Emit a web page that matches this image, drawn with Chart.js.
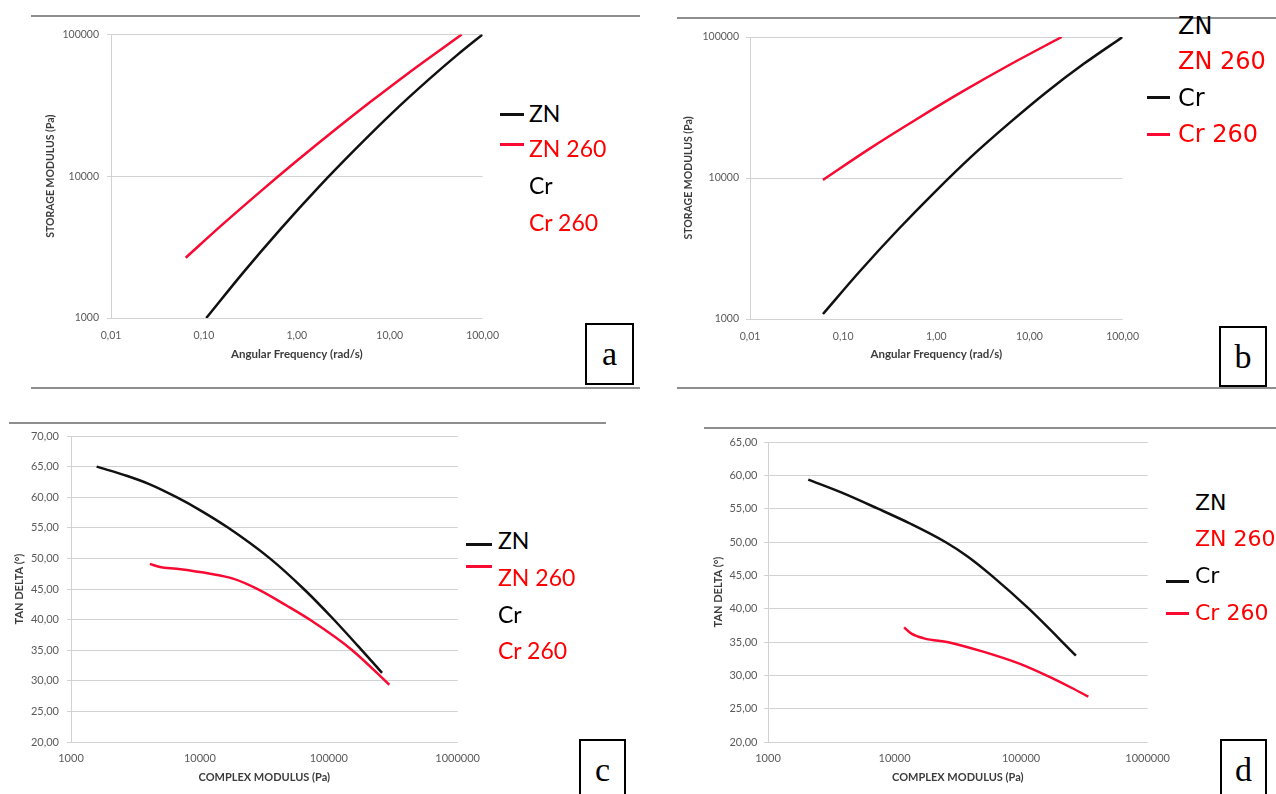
<!DOCTYPE html>
<html>
<head>
<meta charset="utf-8">
<script src="https://cdn.jsdelivr.net/npm/chart.js@4.4.1/dist/chart.umd.min.js"></script>
<style>
  body { margin: 0; background: #fff; }
  #page { position: relative; width: 1276px; height: 794px; overflow: hidden; background: #fff; }
  canvas { position: absolute; }
  .rule { position: absolute; height: 2px; background: #8e8e8e; }
  .leg { position: absolute; white-space: nowrap; line-height: 1; }
  .swatch { position: absolute; height: 3px; }
  .tag { position: absolute; border: 2px solid #000; box-sizing: border-box; background: #fff;
         font-family: 'Liberation Serif', serif; font-size: 34px; text-align: center; line-height: 58px; }
</style>
</head>
<body>
<div id="page">
  <div class="rule" style="left:31px; top:15px; width:609px;"></div>
  <div class="rule" style="left:31px; top:387px; width:609px;"></div>
  <div class="rule" style="left:677px; top:17px; width:599px;"></div>
  <div class="rule" style="left:677px; top:387px; width:599px;"></div>
  <div class="rule" style="left:9px; top:422px; width:597px;"></div>
  <div class="rule" style="left:704px; top:427px; width:572px;"></div>

  <canvas id="chartA" width="480" height="344" style="left:30px; top:20px;"></canvas>
  <canvas id="chartB" width="490" height="344" style="left:660px; top:20px;"></canvas>
  <canvas id="chartC" width="490" height="368" style="left:0px; top:420px;"></canvas>
  <canvas id="chartD" width="490" height="363" style="left:690px; top:425px;"></canvas>

  <div class="tag" style="left:585px; top:323px; width:49px; height:62px;">a</div>
  <div class="tag" style="left:1219px; top:326px; width:48px; height:61px;">b</div>
  <div class="tag" style="left:579px; top:739px; width:47px; height:62px;">c</div>
  <div class="tag" style="left:1220px; top:739px; width:47px; height:62px;">d</div>
</div>
<script>
// (a) storage modulus vs angular frequency
const freqA_ZN = [0.106, 0.266, 0.668, 1.68, 4.22, 10.6, 26.6, 53.1, 100];
const storageA_ZN = [1000, 2100, 4240, 8250, 15400, 27900, 48400, 71500, 100000];
const freqA_ZN260 = [0.0637, 0.160, 0.402, 1.01, 2.54, 6.37, 16.0, 59.6];
const storageA_ZN260 = [2660, 4590, 7760, 12900, 21100, 33900, 53600, 100000];

// (b) storage modulus vs angular frequency
const freqB_Cr = [0.0607, 0.152, 0.383, 0.962, 2.41, 6.07, 15.2, 38.3, 100];
const storageB_Cr = [1085, 2190, 4260, 7950, 14300, 24500, 40600, 64500, 100000];
const freqB_Cr260 = [0.0607, 0.191, 0.607, 1.92, 6.07, 22.2];
const storageB_Cr260 = [9700, 16100, 26000, 41100, 63300, 100000];

// (c) tan delta vs complex modulus
const modC_ZN = [1580, 2700, 4090, 6590, 10000, 16600, 34900, 65200, 107000, 171000, 259000];
const deltaC_ZN = [65.0, 63.5, 62.1, 60.0, 57.9, 55.0, 50.0, 44.84, 40.22, 35.54, 31.3];
const modC_ZN260 = [4090, 4900, 6590, 12000, 18100, 28300, 47000, 73500, 152000, 295000];
const deltaC_ZN260 = [49.1, 48.6, 48.3, 47.5, 46.7, 44.95, 42.3, 39.8, 35.0, 29.35];

// (d) tan delta vs complex modulus
const modD_Cr = [2080, 3830, 7390, 13500, 25200, 38000, 58200, 115000, 271000];
const deltaD_Cr = [59.36, 57.4, 55.0, 52.7, 50.0, 47.8, 45.0, 40.0, 32.96];
const modD_Cr260 = [11900, 13600, 17100, 27600, 50100, 96900, 166000, 252000, 340000];
const deltaD_Cr260 = [37.2, 36.25, 35.55, 34.9, 33.55, 31.75, 29.8, 28.1, 26.8];

// ticks
const freqTicks = [0.01, 0.1, 1, 10, 100];
const freqTickLabels = ['0,01', '0,10', '1,00', '10,00', '100,00'];
const storageTicks = [1000, 10000, 100000];
const storageTickLabels = ['1000', '10000', '100000'];
const modulusTicks = [1000, 10000, 100000, 1000000];
const modulusTickLabels = ['1000', '10000', '100000', '1000000'];
const deltaTicksC = [20, 25, 30, 35, 40, 45, 50, 55, 60, 65, 70];
const deltaTickLabelsC = ['20,00', '25,00', '30,00', '35,00', '40,00', '45,00', '50,00', '55,00', '60,00', '65,00', '70,00'];
const deltaTicksD = [20, 25, 30, 35, 40, 45, 50, 55, 60, 65];
const deltaTickLabelsD = ['20,00', '25,00', '30,00', '35,00', '40,00', '45,00', '50,00', '55,00', '60,00', '65,00'];

const legendLabels = ['ZN', 'ZN 260', 'Cr', 'Cr 260'];
const legendColors = ['#000000', '#ff0000', '#000000', '#ff0000'];

const BLACK = '#111111';
const RED = '#f80a32';
const gridColor = '#d2d2d2';
const tickColor = '#5a5a5a';
const titleColor = '#3c3c3c';

function points(xs, ys) {
  return xs.map((x, i) => ({ x: x, y: ys[i] }));
}

function makeChart(id, cfg) {
  new Chart(document.getElementById(id), {
    type: 'line',
    data: {
      datasets: cfg.series.map(s => ({
        data: points(s.x, s.y),
        borderColor: s.color,
        borderWidth: 2.5,
        pointRadius: 0,
        fill: false,
        cubicInterpolationMode: 'monotone'
      }))
    },
    options: {
      responsive: false,
      animation: false,
      layout: { padding: { top: cfg.padTop, right: cfg.padRight, left: 0, bottom: 0 } },
      plugins: { legend: { display: false }, tooltip: { enabled: false } },
      scales: {
        x: {
          type: 'logarithmic',
          min: cfg.xTicks[0],
          max: cfg.xTicks[cfg.xTicks.length - 1],
          afterBuildTicks: s => { s.ticks = cfg.xTicks.map(v => ({ value: v })); },
          afterFit: s => { s.height = cfg.xHeight; },
          grid: { display: false, drawTicks: false },
          border: { display: false },
          ticks: {
            autoSkip: false, maxRotation: 0, padding: cfg.xPad, color: tickColor,
            font: { family: 'Lato', size: cfg.tickSize },
            callback: (v, i) => cfg.xLabels[i]
          },
          title: {
            display: true, text: cfg.xTitle, color: titleColor,
            font: { family: 'Lato', size: cfg.xTitleSize, weight: 'bold' },
            padding: { top: 3, bottom: cfg.xTitlePad }
          }
        },
        y: {
          type: cfg.yType,
          min: cfg.yTicks[0],
          max: cfg.yTicks[cfg.yTicks.length - 1],
          afterBuildTicks: s => { s.ticks = cfg.yTicks.map(v => ({ value: v })); },
          afterFit: s => { s.width = cfg.yWidth; },
          grid: { color: gridColor, lineWidth: 1, tickLength: 4 },
          border: { color: gridColor },
          ticks: {
            padding: cfg.yPad, color: tickColor,
            font: { family: 'Lato', size: cfg.tickSize },
            callback: (v, i) => cfg.yLabels[i]
          },
          title: {
            display: true, text: cfg.yTitle, color: titleColor,
            font: { family: 'Lato', size: cfg.yTitleSize, weight: 'bold' },
            padding: { top: cfg.yTitlePad, bottom: 0 }
          }
        }
      }
    }
  });
}

makeChart('chartA', {
  series: [
    { x: freqA_ZN, y: storageA_ZN, color: BLACK },
    { x: freqA_ZN260, y: storageA_ZN260, color: RED }
  ],
  xTicks: freqTicks, xLabels: freqTickLabels,
  yTicks: storageTicks, yLabels: storageTickLabels, yType: 'logarithmic',
  xTitle: 'Angular Frequency (rad/s)', yTitle: 'STORAGE MODULUS (Pa)',
  padTop: 14.5, padRight: 25.5, xHeight: 46, yWidth: 81,
  xPad: 11, yPad: 8, tickSize: 10.5,
  xTitleSize: 11.5, xTitlePad: 3, yTitleSize: 10.5, yTitlePad: 14.7
});

makeChart('chartB', {
  series: [
    { x: freqB_Cr, y: storageB_Cr, color: BLACK },
    { x: freqB_Cr260, y: storageB_Cr260, color: RED }
  ],
  xTicks: freqTicks, xLabels: freqTickLabels,
  yTicks: storageTicks, yLabels: storageTickLabels, yType: 'logarithmic',
  xTitle: 'Angular Frequency (rad/s)', yTitle: 'STORAGE MODULUS (Pa)',
  padTop: 17, padRight: 25.5, xHeight: 45, yWidth: 90,
  xPad: 11, yPad: 7, tickSize: 10.5,
  xTitleSize: 11.5, xTitlePad: 3, yTitleSize: 10.5, yTitlePad: 22.7
});

makeChart('chartC', {
  series: [
    { x: modC_ZN, y: deltaC_ZN, color: BLACK },
    { x: modC_ZN260, y: deltaC_ZN260, color: RED }
  ],
  xTicks: modulusTicks, xLabels: modulusTickLabels,
  yTicks: deltaTicksC, yLabels: deltaTickLabelsC, yType: 'linear',
  xTitle: 'COMPLEX MODULUS (Pa)', yTitle: 'TAN DELTA (°)',
  padTop: 16, padRight: 32, xHeight: 46, yWidth: 71,
  xPad: 10, yPad: 8, tickSize: 11,
  xTitleSize: 11, xTitlePad: 4, yTitleSize: 11, yTitlePad: 12.4
});

makeChart('chartD', {
  series: [
    { x: modD_Cr, y: deltaD_Cr, color: BLACK },
    { x: modD_Cr260, y: deltaD_Cr260, color: RED }
  ],
  xTicks: modulusTicks, xLabels: modulusTickLabels,
  yTicks: deltaTicksD, yLabels: deltaTickLabelsD, yType: 'linear',
  xTitle: 'COMPLEX MODULUS (Pa)', yTitle: 'TAN DELTA (°)',
  padTop: 17, padRight: 26.5, xHeight: 46, yWidth: 78,
  xPad: 10, yPad: 6.5, tickSize: 11,
  xTitleSize: 11, xTitlePad: 4, yTitleSize: 11, yTitlePad: 21.4
});

// legends: text rows plus the short line samples
const page = document.getElementById('page');

function addText(text, color, left, capCenter, family, size, k) {
  const d = document.createElement('div');
  d.className = 'leg';
  d.textContent = text;
  d.style.left = left + 'px';
  d.style.top = (capCenter - k * size) + 'px';
  d.style.color = color;
  d.style.fontFamily = family;
  d.style.fontSize = size + 'px';
  page.appendChild(d);
}

function addSwatch(left, right, y, color) {
  const d = document.createElement('div');
  d.className = 'swatch';
  d.style.left = left + 'px';
  d.style.width = (right - left) + 'px';
  d.style.top = (y - 1.5) + 'px';
  d.style.background = color;
  page.appendChild(d);
}

function addLegend(left, rows, family, size, k) {
  legendLabels.forEach((t, i) => addText(t, legendColors[i], left, rows[i], family, size, k));
}

addLegend(529, [114, 149, 186, 223.5], 'Lato', 23, 0.527);
addSwatch(500, 524, 114, BLACK);
addSwatch(500, 524, 144, RED);

addLegend(1178, [25.5, 60.5, 98, 134], 'DejaVu Sans', 24, 0.4815);
addSwatch(1147, 1170, 97, BLACK);
addSwatch(1147, 1170, 134, RED);

addLegend(498, [541.5, 578, 615, 651], 'Lato', 23, 0.527);
addSwatch(466, 492, 544, BLACK);
addSwatch(466, 492, 566, RED);

addLegend(1195, [503, 539, 576, 613], 'DejaVu Sans', 22, 0.4815);
addSwatch(1166, 1189, 581, BLACK);
addSwatch(1166, 1189, 613, RED);
</script>
</body>
</html>
